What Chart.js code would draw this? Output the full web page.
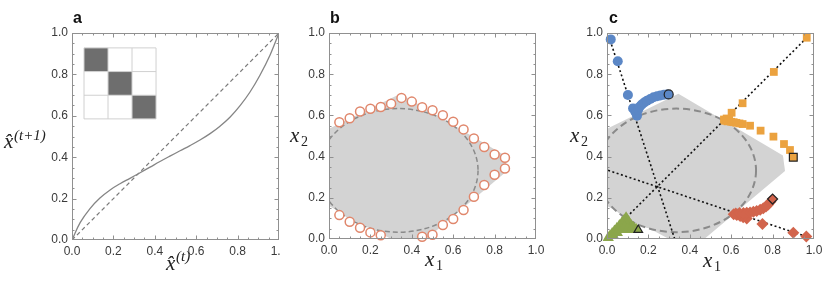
<!DOCTYPE html>
<html>
<head>
<meta charset="utf-8">
<script src="https://cdn.jsdelivr.net/npm/chart.js@4"></script>
<style>
    body { margin: 0; background: #fff; width: 830px; height: 290px; position: relative; overflow: hidden; }
    canvas { position: absolute; top: 0; }
    #pa { left: 0; }
    #pb { left: 281px; }
    #pc { left: 550px; }
</style>
</head>
<body>
<canvas id="pa" width="281" height="290"></canvas>
<canvas id="pb" width="269" height="290"></canvas>
<canvas id="pc" width="280" height="290"></canvas>
<script>
// shared ticks
const tickValues = [0, 0.2, 0.4, 0.6, 0.8, 1];
const tickLabels = ["0.0", "0.2", "0.4", "0.6", "0.8", "1.0"];

// panel a: map x^(t) -> x^(t+1)
const mapX = [0, 0.04, 0.087, 0.135, 0.184, 0.232, 0.28, 0.329, 0.377, 0.425, 0.473,
    0.522, 0.57, 0.618, 0.667, 0.715, 0.763, 0.812, 0.86, 0.908, 0.957, 1];
const mapY = [0, 0.085, 0.152, 0.203, 0.242, 0.272, 0.298, 0.325, 0.352, 0.379, 0.405,
    0.431, 0.456, 0.483, 0.514, 0.55, 0.593, 0.649, 0.715, 0.796, 0.894, 1];
const diagX = [0, 1];
const diagY = [0, 1];
const insetMatrix = [
    [1, 0, 0],
    [0, 1, 0],
    [0, 0, 1],
];

// panel b: boundary points
const ringX = [0.05, 0.1, 0.15, 0.2, 0.25, 0.3, 0.35, 0.4, 0.45, 0.5, 0.55, 0.6, 0.65, 0.7, 0.75, 0.8, 0.85,
    0.85, 0.8, 0.75, 0.7, 0.65, 0.6, 0.55, 0.5, 0.45, 0.25, 0.2, 0.15, 0.1, 0.05];
const ringY = [0.567, 0.586, 0.619, 0.632, 0.641, 0.657, 0.685, 0.667, 0.64, 0.625, 0.601, 0.569, 0.532, 0.488, 0.447, 0.41, 0.394,
    0.342, 0.312, 0.262, 0.205, 0.141, 0.097, 0.068, 0.021, 0.011, 0.018, 0.032, 0.055, 0.084, 0.116];

// shaded region (b and c)
const hullX = [0, 0.345, 0.85, 0.86, 0.47, 0.3, 0];
const hullY = [0.535, 0.705, 0.405, 0.33, 0, 0, 0.16];
const ellipseCenter = [0.335, 0.333];
const ellipseRadii = [0.385, 0.3];

// panel c: trajectories
const blueX = [0.018, 0.052, 0.101, 0.126, 0.137, 0.145, 0.142, 0.15, 0.158, 0.168, 0.18, 0.193, 0.209, 0.225, 0.242, 0.258, 0.275, 0.29];
const blueY = [0.969, 0.863, 0.699, 0.634, 0.618, 0.598, 0.612, 0.628, 0.642, 0.653, 0.663, 0.671, 0.68, 0.688, 0.693, 0.697, 0.7, 0.702];
const blueStart = [0.298, 0.702];

const orangeX = [0.965, 0.806, 0.655, 0.602, 0.57, 0.565, 0.578, 0.59, 0.582, 0.6, 0.612, 0.625, 0.64, 0.655, 0.691, 0.742, 0.804, 0.855, 0.884];
const orangeY = [0.977, 0.811, 0.659, 0.613, 0.574, 0.58, 0.585, 0.578, 0.571, 0.569, 0.567, 0.564, 0.561, 0.558, 0.55, 0.526, 0.497, 0.461, 0.432];
const orangeStart = [0.9, 0.397];

const redX = [0.963, 0.9, 0.751, 0.675, 0.658, 0.643, 0.627, 0.612, 0.622, 0.64, 0.659, 0.675, 0.691, 0.707, 0.723, 0.74, 0.755, 0.768, 0.779, 0.79];
const redY = [0.012, 0.03, 0.073, 0.1, 0.106, 0.112, 0.117, 0.12, 0.124, 0.126, 0.126, 0.127, 0.129, 0.132, 0.136, 0.142, 0.149, 0.158, 0.168, 0.181];
const redStart = [0.8, 0.194];

const greenX = [0.14, 0.128, 0.117, 0.107, 0.098, 0.092, 0.083, 0.072, 0.06, 0.048, 0.036, 0.025, 0.015, 0.006, 0.03, 0.05, 0.07, 0.085, 0.1, 0.115];
const greenY = [0.048, 0.056, 0.066, 0.08, 0.094, 0.103, 0.092, 0.079, 0.065, 0.052, 0.039, 0.027, 0.016, 0.006, 0.018, 0.03, 0.045, 0.06, 0.05, 0.045];
const greenStart = [0.151, 0.044];

const lineBlueX = [0.015, 0.327];
const lineBlueY = [0.965, 0];
const lineOrangeX = [0.965, 0.092];
const lineOrangeY = [0.977, 0.103];
const lineRedX = [0.963, 0];
const lineRedY = [0.012, 0.335];

const pts = (xs, ys) => xs.map((x, i) => ({ x: x, y: ys[i] }));

const SANS = "'Liberation Sans', Arial, sans-serif";
const SERIF = "'Liberation Serif', 'Times New Roman', serif";

function axes(leftW, bottomH) {
    const common = {
        type: "linear",
        min: 0,
        max: 1,
        grid: { display: false, drawTicks: false },
        border: { display: false },
        afterBuildTicks: (s) => {
            s.ticks = tickValues.map((v) => ({ value: v }));
        },
        ticks: {
            font: { family: SANS, size: 12 },
            color: "#3a3a3a",
            padding: 4,
            autoSkip: false,
            maxRotation: 0,
            callback: (v, i) => tickLabels[i],
        },
    };
    return {
        x: {
            ...common,
            afterFit: (s) => {
                s.height = bottomH;
                s.paddingLeft = 0;
                s.paddingRight = 0;
            },
        },
        y: {
            ...common,
            afterFit: (s) => {
                s.width = leftW;
                s.paddingTop = 0;
                s.paddingBottom = 0;
            },
        },
    };
}

// frame with inward ticks on all four sides
const framePlugin = {
    id: "frame",
    afterDatasetsDraw(chart) {
        const { ctx, chartArea: a, scales } = chart;
        const l = Math.round(a.left) + 0.5, r = Math.round(a.right) - 0.5;
        const t = Math.round(a.top) + 0.5, b = Math.round(a.bottom) - 0.5;
        ctx.save();
        ctx.strokeStyle = "#909090";
        ctx.lineWidth = 1;
        ctx.beginPath();
        for (let i = 1; i < 20; i++) {
            const v = i / 20;
            const len = i % 4 === 0 ? 4 : 2;
            const px = Math.round(scales.x.getPixelForValue(v)) + 0.5;
            const py = Math.round(scales.y.getPixelForValue(v)) + 0.5;
            ctx.moveTo(px, b); ctx.lineTo(px, b - len);
            ctx.moveTo(px, t); ctx.lineTo(px, t + len);
            ctx.moveTo(l, py); ctx.lineTo(l + len, py);
            ctx.moveTo(r, py); ctx.lineTo(r - len, py);
        }
        ctx.stroke();
        ctx.strokeRect(l, t, r - l, b - t);
        ctx.restore();
    },
};

function labelsPlugin(items) {
    return {
        id: "labels",
        afterDraw(chart) {
            const ctx = chart.ctx;
            ctx.save();
            ctx.textAlign = "left";
            ctx.textBaseline = "alphabetic";
            items.forEach((it) => {
                ctx.font = it.font;
                ctx.fillStyle = it.color || "#222";
                ctx.fillText(it.text, it.x, it.y);
            });
            ctx.restore();
        },
    };
}

function regionPlugin(dash, lw) {
    return {
        id: "region",
        beforeDatasetsDraw(chart) {
            const { ctx, chartArea: a, scales: { x, y } } = chart;
            ctx.save();
            ctx.beginPath();
            ctx.rect(a.left, a.top, a.width, a.height);
            ctx.clip();
            ctx.fillStyle = "#d3d3d3";
            ctx.beginPath();
            hullX.forEach((v, i) => {
                const px = x.getPixelForValue(v), py = y.getPixelForValue(hullY[i]);
                if (i === 0) ctx.moveTo(px, py);
                else ctx.lineTo(px, py);
            });
            ctx.closePath();
            ctx.fill();
            const cx = x.getPixelForValue(ellipseCenter[0]);
            const cy = y.getPixelForValue(ellipseCenter[1]);
            const rx = x.getPixelForValue(ellipseCenter[0] + ellipseRadii[0]) - cx;
            const ry = cy - y.getPixelForValue(ellipseCenter[1] + ellipseRadii[1]);
            ctx.beginPath();
            ctx.ellipse(cx, cy, rx, ry, 0, 0, Math.PI * 2);
            ctx.fill();
            ctx.setLineDash(dash);
            ctx.strokeStyle = "#8a8a8a";
            ctx.lineWidth = lw;
            ctx.stroke();
            ctx.restore();
        },
    };
}

const insetPlugin = {
    id: "inset",
    beforeDatasetsDraw(chart) {
        const { ctx, scales: { x, y } } = chart;
        const x0 = x.getPixelForValue(0.058), x1 = x.getPixelForValue(0.406);
        const y0 = y.getPixelForValue(0.928), y1 = y.getPixelForValue(0.585);
        const n = insetMatrix.length;
        const cw = (x1 - x0) / n, ch = (y1 - y0) / n;
        ctx.save();
        insetMatrix.forEach((row, r) => {
            row.forEach((v, c) => {
                ctx.fillStyle = v ? "#6e6e6e" : "#ffffff";
                ctx.fillRect(x0 + c * cw, y0 + r * ch, cw, ch);
            });
        });
        ctx.strokeStyle = "#d0d0d0";
        ctx.lineWidth = 1;
        ctx.beginPath();
        for (let i = 0; i <= n; i++) {
            ctx.moveTo(x0 + i * cw, y0); ctx.lineTo(x0 + i * cw, y1);
            ctx.moveTo(x0, y0 + i * ch); ctx.lineTo(x1, y0 + i * ch);
        }
        ctx.stroke();
        ctx.restore();
    },
};

function baseOptions(leftW, bottomH, padRight) {
    return {
        responsive: false,
        animation: false,
        devicePixelRatio: 1,
        layout: { padding: { top: 33, right: padRight, bottom: 0, left: 0 } },
        plugins: { legend: { display: false }, tooltip: { enabled: false } },
        scales: axes(leftW, bottomH),
    };
}

const LETTER = "bold 16px " + SANS;
const MATH = "italic 21px " + SERIF;
const SUP = "italic 15px " + SERIF;
const SUB = "14px " + SERIF;

// panel a
new Chart(document.getElementById("pa"), {
    type: "scatter",
    data: {
        datasets: [
            {
                data: pts(mapX, mapY),
                showLine: true,
                tension: 0.4,
                borderColor: "#858585",
                borderWidth: 1.3,
                pointRadius: 0,
            },
            {
                data: pts(diagX, diagY),
                showLine: true,
                borderColor: "#7a7a7a",
                borderWidth: 1.2,
                borderDash: [4, 3],
                pointRadius: 0,
            },
        ],
    },
    options: baseOptions(72, 50, 2),
    plugins: [
        insetPlugin,
        framePlugin,
        labelsPlugin([
            { text: "a", x: 73, y: 23, font: LETTER, color: "#111" },
            { text: "x\u0302", x: 166, y: 270, font: MATH },
            { text: "(t)", x: 176, y: 261, font: SUP },
            { text: "x\u0302", x: 4, y: 148, font: MATH },
            { text: "(t+1)", x: 14, y: 140, font: SUP },
        ]),
    ],
});

// panel b
new Chart(document.getElementById("pb"), {
    type: "scatter",
    data: {
        datasets: [
            {
                data: pts(ringX, ringY),
                pointStyle: "circle",
                pointRadius: 4.5,
                backgroundColor: "#ffffff",
                borderColor: "#e0876c",
                borderWidth: 1.5,
                clip: false,
            },
        ],
    },
    options: baseOptions(48, 51, 14),
    plugins: [
        regionPlugin([5, 3], 1.5),
        framePlugin,
        labelsPlugin([
            { text: "b", x: 49, y: 23, font: LETTER, color: "#111" },
            { text: "x", x: 144, y: 266, font: MATH },
            { text: "1", x: 155, y: 270, font: SUB },
            { text: "x", x: 9, y: 142, font: MATH },
            { text: "2", x: 20, y: 146, font: SUB },
        ]),
    ],
});

// panel c
function markers(xs, ys, style, color, radius) {
    return {
        data: pts(xs, ys),
        pointStyle: style,
        pointRadius: radius,
        backgroundColor: color,
        borderColor: color,
        borderWidth: 0,
        clip: false,
    };
}
function startMarker(p, style, color, radius) {
    return {
        data: [{ x: p[0], y: p[1] }],
        pointStyle: style,
        pointRadius: radius,
        backgroundColor: color,
        borderColor: "#222",
        borderWidth: 1.2,
        clip: false,
    };
}
function dotted(xs, ys) {
    return {
        data: pts(xs, ys),
        showLine: true,
        borderColor: "#111",
        borderWidth: 1.6,
        borderDash: [2, 2.5],
        pointRadius: 0,
    };
}

const BLUE = "#5b87c6";
const ORANGE = "#eba23f";
const RED = "#d2644c";
const GREEN = "#8ba64b";

new Chart(document.getElementById("pc"), {
    type: "scatter",
    data: {
        datasets: [
            startMarker(blueStart, "circle", BLUE, 4.5),
            startMarker(orangeStart, "rect", ORANGE, 5.5),
            startMarker(redStart, "rectRot", RED, 5),
            startMarker(greenStart, "triangle", GREEN, 5),
            markers(blueX, blueY, "circle", BLUE, 5),
            markers(orangeX, orangeY, "rect", ORANGE, 5.5),
            markers(redX, redY, "rectRot", RED, 6),
            markers(greenX, greenY, "triangle", GREEN, 6.5),
            dotted(lineBlueX, lineBlueY),
            dotted(lineOrangeX, lineOrangeY),
            dotted(lineRedX, lineRedY),
        ],
    },
    options: baseOptions(57, 51, 16),
    plugins: [
        regionPlugin([7, 4], 2),
        framePlugin,
        labelsPlugin([
            { text: "c", x: 59, y: 23, font: LETTER, color: "#111" },
            { text: "x", x: 153, y: 267, font: MATH },
            { text: "1", x: 164, y: 271, font: SUB },
            { text: "x", x: 20, y: 142, font: MATH },
            { text: "2", x: 31, y: 146, font: SUB },
        ]),
    ],
});
</script>
</body>
</html>
